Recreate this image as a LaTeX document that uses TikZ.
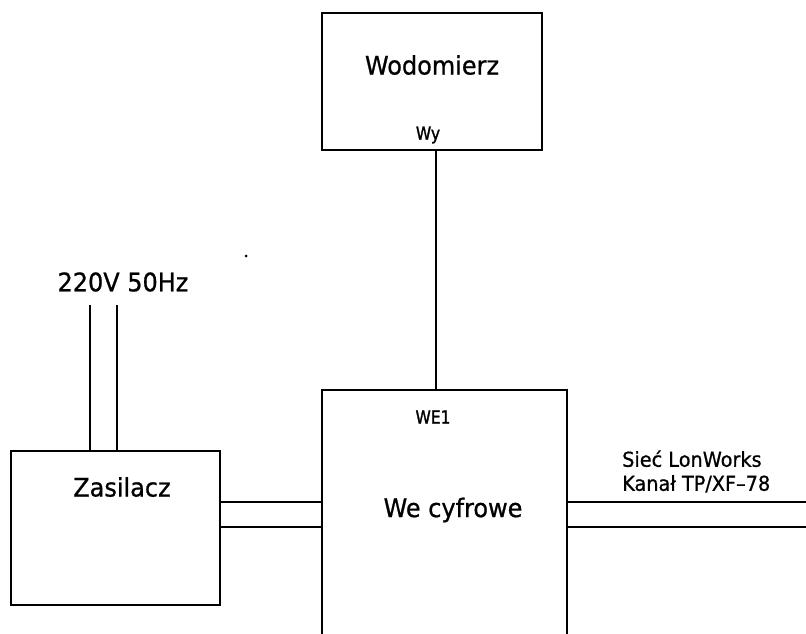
\documentclass[tikz,border=0pt]{standalone}
\usepackage{fontspec}
\setmainfont{DejaVu Sans}[FakeBold=0.8,FakeStretch=0.94]
\newfontfamily\tagfont{DejaVu Sans}[FakeStretch=0.86,FakeBold=1.4]
\usetikzlibrary{positioning,calc}

\begin{document}
\begin{tikzpicture}[x=1pt,y=-1pt,
 every node/.style={inner sep=0pt},
 box/.style={draw,line width=2.6pt,minimum width=#1},
 big/.style={font=\fontsize{25.5}{30}\selectfont},
 mid/.style={font=\fontsize{20.5}{25}\selectfont,align=left,anchor=west},
 tag/.style={font=\tagfont\fontsize{18}{20}\selectfont},
 wire/.style={line width=1.6pt}]
\useasboundingbox (0,0) rectangle (806,634);
% blocks
\node[box=220pt,minimum height=137pt](wodo) at (432,81.5){};
\node[box=245pt,minimum height=280pt](we1) at (444.5,530){};
\node[box=209pt,minimum height=154pt](zas) at (115.5,528){};
\node[big] at (432,65){Wodomierz};
\node[tag] at (428,135){Wy};
\node[tag] at (433,417){WE1};
\node[big] at (453,510){We cyfrowe};
\node[big] at (122,487){Zasilacz};
\node[big](mains) at (123,282){220V 50Hz};
\node[mid](lon) at (622,471.5){Sieć LonWorks\\[-1pt]Kanał TP/XF--78};
% helper points
\coordinate (busA) at (0,502);\coordinate (busB) at (0,527);
\coordinate (pwrA) at (90,305);\coordinate (pwrB) at (117,305);
\coordinate (netA) at (806,502);\coordinate (netB) at (806,527);
% wires
\draw[wire]([xshift=4pt]wodo.south)--([xshift=4pt]wodo.south |- we1.north);
\draw[wire](pwrA)--(pwrA |- zas.north);\draw[wire](pwrB)--(pwrB |- zas.north);
\draw[wire](zas.east |- busA)--(we1.west |- busA);\draw[wire](zas.east |- busB)--(we1.west |- busB);
\draw[wire](we1.east |- busA)--(netA);\draw[wire](we1.east |- busB)--(netB);
\fill (246,256) circle (1.5pt);
\end{tikzpicture}
\end{document}
